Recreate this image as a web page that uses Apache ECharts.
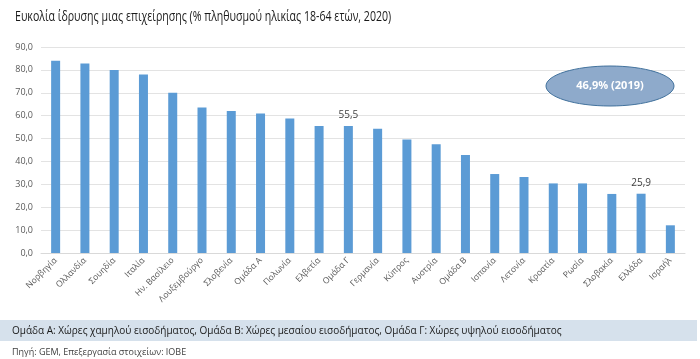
<!DOCTYPE html>
<html>
<head>
<meta charset="utf-8">
<script src="https://cdn.jsdelivr.net/npm/echarts@6/dist/echarts.min.js"></script>
<style>html,body{margin:0;padding:0;background:#fff}#c{width:700px;height:359px}</style>
</head>
<body>
<div id="c"></div>
<script>
const categories = ["Νορβηγία","Ολλανδία","Σουηδία","Ιταλία","Ην. Βασίλειο","Λουξεμβούργο","Σλοβενία","Ομάδα Α","Πολωνία","Ελβετία","Ομάδα Γ","Γερμανία","Κύπρος","Αυστρία","Ομάδα Β","Ισπανία","Λετονία","Κροατία","Ρωσία","Σλοβακία","Ελλάδα","Ισραήλ"];
const values = [84.0,82.8,80.0,78.0,70.0,63.6,62.0,61.0,58.8,55.5,55.5,54.3,49.6,47.5,42.8,34.5,33.2,30.4,30.4,25.8,25.9,12.1];
const labelledCategories = ["Ομάδα Γ","Ελλάδα"];
const yTicks = {min:0, max:90, interval:10};
const titleText = "Ευκολία ίδρυσης μιας επιχείρησης (% πληθυσμού ηλικίας 18-64 ετών, 2020)";
const noteText = "Ομάδα Α: Χώρες χαμηλού εισοδήματος, Ομάδα Β: Χώρες μεσαίου εισοδήματος, Ομάδα Γ: Χώρες υψηλού εισοδήματος";
const sourceText = "Πηγή: GEM, Επεξεργασία στοιχείων: ΙΟΒΕ";
const calloutText = "46,9% (2019)";

const fmt = v => v.toFixed(1).replace('.', ',');
const FONT = "'Open Sans', sans-serif";
const chart = echarts.init(document.getElementById('c'), null, {renderer:'canvas'});
chart.setOption({
  animation:false,
  grid:{left:41,right:15,top:47,bottom:106,containLabel:false},
  xAxis:{type:'category',data:categories,
    axisLine:{lineStyle:{color:'#d9d9d9'}},axisTick:{show:false},
    axisLabel:{rotate:45,interval:0,fontFamily:FONT,fontSize:8.5,color:'#595959',margin:6}},
  yAxis:{type:'value',min:yTicks.min,max:yTicks.max,interval:yTicks.interval,
    axisLine:{show:false},axisTick:{show:false},
    splitLine:{lineStyle:{color:'#e3e3e3'}},
    axisLabel:{formatter:fmt,fontFamily:FONT,fontSize:9,color:'#595959',margin:8}},
  series:[{type:'bar',data:values.map((v,i)=>({value:v,label:{show:labelledCategories.includes(categories[i])}})),
    barWidth:9,itemStyle:{color:'#5b9bd5'},
    label:{position:'top',formatter:p=>fmt(p.value),fontFamily:FONT,fontSize:10,color:'#404040',distance:6}}],
  graphic:[
    {type:'text',z:101,x:15,y:17,scaleX:0.757,style:{text:titleText,fill:'#1a1a1a',font:"14px "+FONT,verticalAlign:'middle'}},
    {type:'ellipse',z:100,shape:{cx:610,cy:86,rx:64,ry:20},style:{fill:'#8eaacb',stroke:'#41719c',lineWidth:1}},
    {type:'text',z:101,x:610,y:86,style:{text:calloutText,fill:'#fff',font:"bold 11px "+FONT,align:'center',verticalAlign:'middle'}},
    {type:'rect',z:100,shape:{x:0,y:320,width:697,height:21},style:{fill:'#d6e1ec'}},
    {type:'text',z:101,x:12,y:331,style:{text:noteText,fill:'#1a1a1a',font:"10px "+FONT,verticalAlign:'middle'}},
    {type:'text',z:101,x:12,y:352,style:{text:sourceText,fill:'#404040',font:"9px "+FONT,verticalAlign:'middle'}}
  ]
});
</script>
</body>
</html>
